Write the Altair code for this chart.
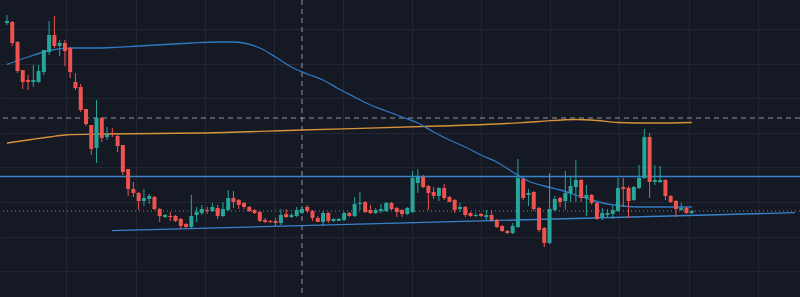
import altair as alt
import pandas as pd

# Candles (price units, arbitrary scale)
opens = [277,278,258,230,220,218,218,228,248,265,254,257,252,218,213,191,175,152,182,163,
         166,164,155,131,111,107,99,101,103,91,83,84,84,81,76,73,85,87,90,89,
         92,84,90,102,100,97,93,90,88,80,79,79,77,86,83,84,87,93,89,82,
         78,87,79,79,80,87,84,96,98,90,87,89,89,97,92,90,86,88,117,123,
         114,108,104,112,103,100,91,93,87,84,86,83,85,80,74,69,67,73,121,105,
         108,92,72,57,90,102,99,107,113,120,102,105,97,83,85,86,89,113,112,100,
         112,122,163,118,118,120,104,99,90,92,87]
highs = [285,279,259,230,225,235,235,250,279,284,260,260,253,227,216,191,175,200,183,173,
         172,165,155,131,118,108,111,106,104,92,86,88,85,82,77,105,93,95,93,97,
         95,98,110,109,101,98,94,91,89,82,80,82,91,91,87,93,94,95,90,84,
         89,88,82,82,88,88,103,108,99,95,92,96,98,98,93,91,93,129,131,125,
         115,113,113,116,104,101,97,94,88,87,87,90,90,81,75,70,77,141,122,111,
         109,93,73,127,104,103,129,124,140,121,115,106,98,92,91,94,122,122,114,114,
         135,171,167,135,134,121,105,100,97,93,90]
lows = [275,254,227,211,210,213,217,225,245,252,244,234,222,210,188,174,145,137,158,160,
        163,148,125,104,103,90,94,96,90,78,82,79,78,71,72,72,78,85,86,88,
        81,83,89,92,91,91,88,86,78,77,77,74,75,82,82,83,86,87,79,78,
        74,77,78,79,79,83,83,90,87,86,86,87,88,90,83,83,85,87,107,112,
        90,101,99,100,98,87,88,83,83,83,83,80,78,72,68,66,66,72,100,94,
        89,68,53,56,89,93,90,98,98,98,84,95,80,80,82,81,88,93,82,99,
        111,121,102,115,117,100,97,83,89,86,86]
closes = [279,257,229,218,218,220,229,250,265,254,257,249,228,212,190,176,151,182,162,166,
          165,154,128,111,107,99,102,104,91,84,85,83,79,74,73,84,88,91,89,93,
          84,91,102,98,95,93,89,87,79,78,78,77,85,83,85,90,91,89,82,78,
          87,79,81,81,87,84,96,97,88,87,90,91,97,91,88,86,92,122,123,113,
          107,104,112,102,98,90,93,85,84,85,84,85,80,73,69,67,74,122,102,107,
          91,70,57,91,101,98,107,114,120,102,105,97,81,87,87,90,112,111,99,113,
          122,163,118,120,120,104,98,91,92,87,89]

# Moving averages sampled at candle indices
ma_blue_i = [0,4,8,12,16,20,25,30,35,40,43,45,48,51,54,57,60,63,66,69,72,75,78,81,84,87,90,93,96,99,102,105,108,111,114,117,120,125,130]
ma_blue_p = [235.5,243,249.5,252,252,252.5,254,255.5,257,258,258,257,252,243,233,226,220,211,203,195,189,183,177,168,160,153,145,138,128,119,114,110,105,100,96,94,93,93,93]
ma_orange_i = [0,4,8,11,19,37,56,82,93,101,108,112,116,123,130]
ma_orange_p = [157,160,163,165,166,167,170,174,176,178.5,180.5,179.5,177.5,177,177.5]

# Horizontal levels and trend line
level_blue = [123.5]
level_last = [89]
crosshair_price = [182]
crosshair_index = [56]
trend_i = [19.9, 149.6]
trend_p = [69.3, 87.3]

grid_x = [11.25, 24.4, 37.5, 50.6, 63.75, 76.9, 90, 103.1, 116.25, 129.4, 142.5]
grid_y = [271, 236.4, 201.8, 167.2, 132.6, 98, 63.4, 28.8]

UP = "#26a69a"
DOWN = "#ef5350"
BG = "#151924"
GRID = "#232733"

df = pd.DataFrame({"i": list(range(len(opens))), "open": opens, "high": highs,
                   "low": lows, "close": closes})
df["dir"] = ["up" if c >= o else "down" for o, c in zip(opens, closes)]

xs = alt.Scale(domain=[-0.375, 149.6], nice=False, zero=False)
ys = alt.Scale(domain=[3, 300], nice=False, zero=False)
xax = alt.Axis(values=grid_x, grid=True, labels=False, ticks=False, domain=False, title=None, gridColor=GRID)
yax = alt.Axis(values=grid_y, grid=True, labels=False, ticks=False, domain=False, title=None, gridColor=GRID)
col = alt.Color("dir:N", scale=alt.Scale(domain=["up", "down"], range=[UP, DOWN]), legend=None)

base = alt.Chart(df)
wicks = base.mark_rule(strokeWidth=1).encode(
    x=alt.X("i:Q", scale=xs, axis=xax),
    y=alt.Y("low:Q", scale=ys, axis=yax),
    y2="high:Q",
    color=col,
)
bodies = base.mark_bar(size=4).encode(
    x=alt.X("i:Q", scale=xs, axis=xax),
    y=alt.Y("open:Q", scale=ys, axis=yax),
    y2="close:Q",
    color=col,
)

blue_df = pd.DataFrame({"i": ma_blue_i, "p": ma_blue_p})
orange_df = pd.DataFrame({"i": ma_orange_i, "p": ma_orange_p})
ma_blue = alt.Chart(blue_df).mark_line(color="#2f78c4", strokeWidth=1.3, interpolate="monotone").encode(
    x=alt.X("i:Q", scale=xs, axis=xax), y=alt.Y("p:Q", scale=ys, axis=yax))
ma_orange = alt.Chart(orange_df).mark_line(color="#d8923a", strokeWidth=1.3, interpolate="monotone").encode(
    x=alt.X("i:Q", scale=xs, axis=xax), y=alt.Y("p:Q", scale=ys, axis=yax))

hline = alt.Chart(pd.DataFrame({"p": level_blue})).mark_rule(color="#3a82cc", strokeWidth=1.3).encode(
    y=alt.Y("p:Q", scale=ys, axis=yax))
lastline = alt.Chart(pd.DataFrame({"p": level_last})).mark_rule(color=UP, strokeWidth=1, strokeDash=[1, 3]).encode(
    y=alt.Y("p:Q", scale=ys, axis=yax))
cross_h = alt.Chart(pd.DataFrame({"p": crosshair_price})).mark_rule(color="#9598a1", strokeWidth=1, strokeDash=[5, 4]).encode(
    y=alt.Y("p:Q", scale=ys, axis=yax))
cross_v = alt.Chart(pd.DataFrame({"i": crosshair_index})).mark_rule(color="#9598a1", strokeWidth=1, strokeDash=[5, 4]).encode(
    x=alt.X("i:Q", scale=xs, axis=xax))
trend = alt.Chart(pd.DataFrame({"i": trend_i, "p": trend_p})).mark_line(color="#3a82cc", strokeWidth=1.3, clip=True).encode(
    x=alt.X("i:Q", scale=xs, axis=xax), y=alt.Y("p:Q", scale=ys, axis=yax))

chart = alt.layer(
    cross_v, cross_h, ma_orange, ma_blue, hline, trend, lastline, wicks, bodies
).properties(
    width=800, height=297, background=BG, padding=0,
    autosize=alt.AutoSizeParams(type="none"),
).configure_view(stroke=None, fill=BG)

chart.save("out.html", embed_options={"renderer": "svg", "actions": False})
